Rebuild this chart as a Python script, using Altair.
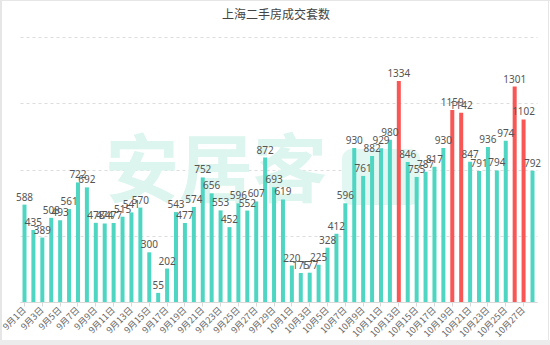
import altair as alt
import pandas as pd

dates = [
    "9月1日", "9月2日", "9月3日", "9月4日", "9月5日", "9月6日", "9月7日", "9月8日", "9月9日", "9月10日",
    "9月11日", "9月12日", "9月13日", "9月14日", "9月15日", "9月16日", "9月17日", "9月18日", "9月19日", "9月20日",
    "9月21日", "9月22日", "9月23日", "9月24日", "9月25日", "9月26日", "9月27日", "9月28日", "9月29日", "9月30日",
    "10月1日", "10月2日", "10月3日", "10月4日", "10月5日", "10月6日", "10月7日", "10月8日", "10月9日", "10月10日",
    "10月11日", "10月12日", "10月13日", "10月14日", "10月15日", "10月16日", "10月17日", "10月18日", "10月19日", "10月20日",
    "10月21日", "10月22日", "10月23日", "10月24日", "10月25日", "10月26日", "10月27日", "10月28日",
]
sales = [
    588, 435, 389, 508, 493, 561, 722, 692, 478, 474,
    477, 515, 541, 570, 300, 55, 202, 543, 477, 574,
    752, 656, 553, 452, 596, 552, 607, 872, 693, 619,
    220, 175, 177, 225, 328, 412, 596, 930, 761, 882,
    929, 980, 1334, 846, 755, 787, 817, 930, 1159, 1142,
    847, 791, 936, 794, 974, 1301, 1102, 792,
]
tick_labels = dates[::2]
title_text = "上海二手房成交套数"
watermark = "安居客"

df = pd.DataFrame({"date": dates, "value": sales})

W, H = 517, 265
one = alt.Data(values=[{}])
border_color = "#e6e6e6"

left_line = alt.Chart(one).mark_rule(color=border_color, strokeWidth=2).encode(
    x=alt.value(-19), y=alt.value(-37), y2=alt.value(308)
)
top_line = alt.Chart(one).mark_rule(color=border_color, strokeWidth=1).encode(
    x=alt.value(-20), x2=alt.value(530), y=alt.value(-36.5)
)
right_line = alt.Chart(one).mark_rule(color=border_color, strokeWidth=1).encode(
    x=alt.value(528.5), y=alt.value(-37), y2=alt.value(308)
)
bottom_band = alt.Chart(one).mark_rect(color="#ececec").encode(
    x=alt.value(-20), x2=alt.value(530), y=alt.value(303), y2=alt.value(308)
)

title_mark = alt.Chart(one).mark_text(
    text=title_text, fontSize=12, color="#444444", font="Noto Sans CJK SC", baseline="middle"
).encode(x=alt.value(256), y=alt.value(-22))

wm = alt.Chart(one).mark_text(
    text=watermark, fontSize=74, fontWeight="bold", color="#dcf5ee", font="Noto Sans CJK SC"
).encode(x=alt.value(196), y=alt.value(137))
wm_box = alt.Chart(one).mark_rect(color="#e2f7f1", cornerRadius=10).encode(
    x=alt.value(322), x2=alt.value(400), y=alt.value(112), y2=alt.value(168)
)

xenc = alt.X(
    "date:N", sort=dates, title=None,
    scale=alt.Scale(paddingInner=0.55, paddingOuter=0.28),
    axis=alt.Axis(
        values=tick_labels, labelAngle=-45, labelAlign="right", labelBaseline="middle",
        labelFontSize=9, labelColor="#666666", labelFont="Noto Sans CJK SC",
        domainColor="#d9d9d9", tickColor="#d9d9d9", tickSize=4, labelPadding=2,
        grid=False,
    ),
)
yenc = alt.Y(
    "value:Q", title=None,
    scale=alt.Scale(domain=[0, 1600], nice=False),
    axis=alt.Axis(
        values=[0, 200, 400, 600, 800, 1000, 1200, 1400, 1600], labels=False, ticks=False,
        domain=False, grid=True, gridColor="#dddddd", gridDash=[3, 3], gridWidth=1,
    ),
)

bars = alt.Chart(df).mark_bar().encode(
    x=xenc, y=yenc,
    color=alt.condition(alt.datum.value > 1000, alt.value("#f95656"), alt.value("#4fd6c3")),
)
labels = alt.Chart(df).mark_text(
    dy=-7, fontSize=10, color="#555555", font="Noto Sans"
).encode(x=alt.X("date:N", sort=dates), y="value:Q", text="value:Q")

chart = alt.layer(
    wm_box, wm, bars, labels, title_mark, left_line, top_line, right_line, bottom_band
).properties(
    width=W, height=H,
    autosize=alt.AutoSizeParams(type="none"),
    padding={"left": 20, "top": 37, "right": 13, "bottom": 43},
    background="white",
).configure_view(stroke=None)

chart.save("out.html", embed_options={"renderer": "svg", "actions": False})
